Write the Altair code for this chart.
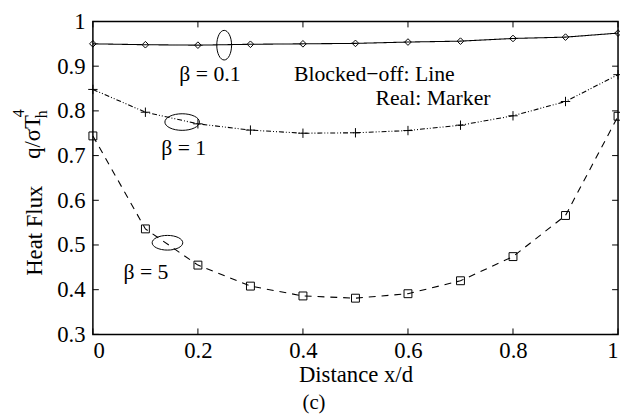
import altair as alt
import pandas as pd

# ---- data ----
x_pos = [0.0, 0.1, 0.2, 0.3, 0.4, 0.5, 0.6, 0.7, 0.8, 0.9, 1.0]
beta_01 = [0.950, 0.948, 0.947, 0.949, 0.950, 0.951, 0.954, 0.956, 0.962, 0.965, 0.974]
beta_1 = [0.848, 0.797, 0.771, 0.757, 0.750, 0.751, 0.756, 0.768, 0.789, 0.821, 0.881]
beta_5 = [0.744, 0.536, 0.455, 0.408, 0.386, 0.381, 0.391, 0.420, 0.474, 0.566, 0.788]

x_ticks = [0, 0.2, 0.4, 0.6, 0.8, 1.0]
y_ticks = [0.3, 0.4, 0.5, 0.6, 0.7, 0.8, 0.9, 1.0]

label_text = ["β = 0.1", "β = 1", "β = 5", "Blocked−off: Line", "Real: Marker"]
label_x = [0.223, 0.173, 0.101, 0.383, 0.538]
label_y = [0.883, 0.717, 0.439, 0.883, 0.828]
label_align = ["center", "center", "center", "left", "left"]

ellipse_x = [0.250, 0.170, 0.142]
ellipse_y = [0.947, 0.775, 0.505]

FONT = "Times New Roman, Liberation Serif, DejaVu Serif, serif"
W, H = 532, 317

xs = alt.Scale(domain=[0, 1], nice=False, zero=False)
ys = alt.Scale(domain=[0.3, 1.0], nice=False, zero=False)

def series_df(vals):
    return pd.DataFrame({"x": x_pos, "y": vals})

def line(vals, dash, width=1.1):
    return alt.Chart(series_df(vals)).mark_line(
        color="black", strokeWidth=width, strokeDash=dash
    ).encode(
        x=alt.X("x:Q", scale=xs,
                axis=alt.Axis(values=x_ticks, title="Distance x/d",
                              labelExpr="datum.value == 0 ? '0' : datum.value == 1 ? '1' : format(datum.value, '.1f')")),
        y=alt.Y("y:Q", scale=ys,
                axis=alt.Axis(values=y_ticks, title=None,
                              labelExpr="datum.value == 1 ? '1' : format(datum.value, '.1f')")),
    )

def markers(vals, shape, size):
    return alt.Chart(series_df(vals)).mark_point(
        shape=shape, size=size, filled=False, color="black", strokeWidth=1, opacity=1
    ).encode(x=alt.X("x:Q", scale=xs), y=alt.Y("y:Q", scale=ys))

plus_path = "M-1,0L1,0M0,-1L0,1"

layers = [
    line(beta_01, [1, 0]),
    line(beta_1, [5, 2, 1, 2, 1, 2]),
    line(beta_5, [7, 6]),
    markers(beta_01, "diamond", 45),
    markers(beta_1, plus_path, 90),
    markers(beta_5, "square", 64),
]

# inward ticks
xt = pd.DataFrame({"v": x_ticks})
yt = pd.DataFrame({"v": y_ticks})
tick_style = dict(color="black", strokeWidth=1)
layers += [
    alt.Chart(xt).mark_rule(**tick_style).encode(x=alt.X("v:Q", scale=xs), y=alt.value(H), y2=alt.value(H - 6)),
    alt.Chart(xt).mark_rule(**tick_style).encode(x=alt.X("v:Q", scale=xs), y=alt.value(0), y2=alt.value(6)),
    alt.Chart(yt).mark_rule(**tick_style).encode(y=alt.Y("v:Q", scale=ys), x=alt.value(0), x2=alt.value(6)),
    alt.Chart(yt).mark_rule(**tick_style).encode(y=alt.Y("v:Q", scale=ys), x=alt.value(W), x2=alt.value(W - 6)),
]

# text labels
lab = pd.DataFrame({"t": label_text, "x": label_x, "y": label_y, "a": label_align})
for align in ["center", "left"]:
    layers.append(
        alt.Chart(lab[lab.a == align]).mark_text(
            font=FONT, fontSize=22, align=align, baseline="middle", color="black"
        ).encode(x=alt.X("x:Q", scale=xs), y=alt.Y("y:Q", scale=ys), text="t:N")
    )

# ellipses (annotation)
ell_v = "M0,-1A0.5,1,0,1,1,0,1A0.5,1,0,1,1,0,-1Z"
ell_h = "M-1,0A1,0.48,0,1,1,1,0A1,0.48,0,1,1,-1,0Z"
ell_shapes = [(ell_v, 900), (ell_h, 1225), (ell_h, 960)]
for i, (shp, sz) in enumerate(ell_shapes):
    layers.append(
        alt.Chart(pd.DataFrame({"x": [ellipse_x[i]], "y": [ellipse_y[i]]})).mark_point(
            shape=shp, size=sz, filled=False, color="black", strokeWidth=1, opacity=1
        ).encode(x=alt.X("x:Q", scale=xs), y=alt.Y("y:Q", scale=ys))
    )

# y-axis title pieces (rotated)
ytitle = pd.DataFrame({
    "t": ["Heat Flux", "q/σT", "h", "4"],
    "px": [-59, -61, -51, -75],
    "py": [212, 117, 94, 93],
    "fs": [23, 23, 16, 16],
})
for _, r in ytitle.iterrows():
    layers.append(
        alt.Chart(pd.DataFrame({"t": [r.t]})).mark_text(
            font=FONT, fontSize=int(r.fs), angle=270, align="center", baseline="middle", color="black"
        ).encode(x=alt.value(int(r.px)), y=alt.value(int(r.py)), text="t:N")
    )

# panel label
layers.append(
    alt.Chart(pd.DataFrame({"t": ["(c)"]})).mark_text(
        font=FONT, fontSize=21, align="center", baseline="top", color="black"
    ).encode(x=alt.value(224), y=alt.value(376), text="t:N")
)

chart = alt.layer(*layers).properties(
    width=W, height=H,
    autosize=alt.AutoSizeParams(type="none"),
    padding={"left": 86, "top": 11, "right": 2, "bottom": 78},
).configure_view(
    stroke="black", strokeWidth=1.5
).configure_axis(
    grid=False, domain=False, ticks=False,
    labelFont=FONT, labelFontSize=23, labelColor="black",
    titleFont=FONT, titleFontSize=23, titleFontWeight="normal", titleColor="black",
).configure_axisX(
    labelPadding=5, titlePadding=2,
).configure_axisY(
    labelPadding=8,
)

chart.save("out.html", embed_options={"renderer": "svg", "actions": False})
